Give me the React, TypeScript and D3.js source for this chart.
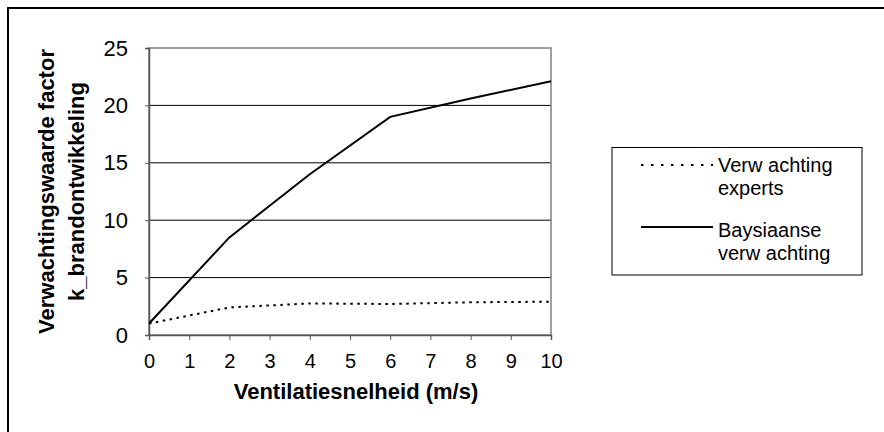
import { useEffect, useRef } from 'react'
import * as d3 from 'd3'

// ventilatiesnelheid (m/s)
const speeds = [0, 2, 4, 6, 8, 10]
const expertValues = [1, 2.4, 2.75, 2.7, 2.85, 2.9]
const bayesValues = [1, 8.5, 14, 19, 20.6, 22.1]
const yTicks = [0, 5, 10, 15, 20, 25]
const xTicks = [0, 1, 2, 3, 4, 5, 6, 7, 8, 9, 10]
const legendLabels = [
  ['Verw achting', 'experts'],
  ['Baysiaanse', 'verw achting'],
]

export default function App() {
  const svgRef = useRef<SVGSVGElement>(null)

  useEffect(() => {
    if (!svgRef.current) return
    const svg = d3.select(svgRef.current)
    svg.selectAll('*').remove()

    const font = '"Liberation Sans", Arial, sans-serif'
    const plot = { left: 149, right: 551, top: 48, bottom: 335 }

    const x = d3.scaleLinear().domain([0, 10]).range([plot.left, plot.right])
    const y = d3.scaleLinear().domain([0, 25]).range([plot.bottom, plot.top])

    // outer frame (only top and left visible)
    svg.append('path')
      .attr('d', 'M8,432 L8,8 L884,8')
      .attr('fill', 'none')
      .attr('stroke', '#000')
      .attr('stroke-width', 2)

    // gridlines
    svg.append('g')
      .selectAll('line')
      .data(yTicks.filter(d => d > 0 && d < 25))
      .enter()
      .append('line')
      .attr('x1', plot.left)
      .attr('x2', plot.right)
      .attr('y1', d => y(d))
      .attr('y2', d => y(d))
      .attr('stroke', '#000')
      .attr('stroke-width', 1)

    // plot area border
    svg.append('rect')
      .attr('x', plot.left)
      .attr('y', plot.top)
      .attr('width', plot.right - plot.left)
      .attr('height', plot.bottom - plot.top)
      .attr('fill', 'none')
      .attr('stroke', '#808080')
      .attr('stroke-width', 1.5)

    // axes
    const yAxis = d3.axisLeft(y).tickValues(yTicks).tickSize(4).tickPadding(17)
    const gy = svg.append('g').attr('transform', `translate(${plot.left},0)`).call(yAxis)
    gy.select('.domain').attr('stroke', '#555').attr('stroke-width', 1.5)
    gy.selectAll('.tick line').attr('stroke', '#555')
    gy.selectAll('text')
      .attr('font-family', font)
      .attr('font-size', 22)
      .attr('fill', '#000')

    const xAxis = d3.axisBottom(x).tickValues(xTicks).tickSize(5).tickPadding(14)
    const gx = svg.append('g').attr('transform', `translate(0,${plot.bottom})`).call(xAxis)
    gx.select('.domain').attr('stroke', '#555').attr('stroke-width', 1.5)
    gx.selectAll('.tick line').attr('stroke', '#555')
    gx.selectAll('text')
      .attr('font-family', font)
      .attr('font-size', 20)
      .attr('fill', '#000')

    const line = d3.line<number>()
      .x((_, i) => x(speeds[i]))
      .y(d => y(d))

    svg.append('path')
      .datum(expertValues)
      .attr('fill', 'none')
      .attr('stroke', '#000')
      .attr('stroke-width', 2)
      .attr('stroke-dasharray', '2.5,4.5')
      .attr('d', line)

    svg.append('path')
      .datum(bayesValues)
      .attr('fill', 'none')
      .attr('stroke', '#000')
      .attr('stroke-width', 2)
      .attr('d', line)

    // axis titles
    svg.append('text')
      .attr('x', (plot.left + plot.right) / 2 + 6)
      .attr('y', 399)
      .attr('text-anchor', 'middle')
      .attr('font-family', font)
      .attr('font-size', 22)
      .attr('font-weight', 'bold')
      .text('Ventilatiesnelheid (m/s)')

    const yt = svg.append('text')
      .attr('transform', `translate(54,${(plot.top + plot.bottom) / 2}) rotate(-90)`)
      .attr('text-anchor', 'middle')
      .attr('font-family', font)
      .attr('font-size', 22)
      .attr('font-weight', 'bold')
    yt.append('tspan').attr('x', 0).attr('dy', 0).text('Verwachtingswaarde factor')
    yt.append('tspan').attr('x', 0).attr('dy', 30).text('k_brandontwikkeling')

    // legend
    const lg = svg.append('g')
    lg.append('rect')
      .attr('x', 612)
      .attr('y', 147.5)
      .attr('width', 250)
      .attr('height', 127.5)
      .attr('fill', '#fff')
      .attr('stroke', '#000')
      .attr('stroke-width', 1)

    const markerY = [165, 227]
    const textY = [172, 237]
    legendLabels.forEach((lines, i) => {
      lg.append('line')
        .attr('x1', 641)
        .attr('x2', 713)
        .attr('y1', markerY[i])
        .attr('y2', markerY[i])
        .attr('stroke', '#000')
        .attr('stroke-width', 2)
        .attr('stroke-dasharray', i === 0 ? '2.5,7.5' : null)
      const t = lg.append('text')
        .attr('font-family', font)
        .attr('font-size', 20)
      lines.forEach((s, j) => {
        t.append('tspan').attr('x', 718).attr('y', textY[i] + j * 23).text(s)
      })
    })
  }, [])

  return (
    <svg
      ref={svgRef}
      width={884}
      height={432}
      style={{ position: 'absolute', left: 0, top: 0, background: '#fff' }}
    />
  )
}
